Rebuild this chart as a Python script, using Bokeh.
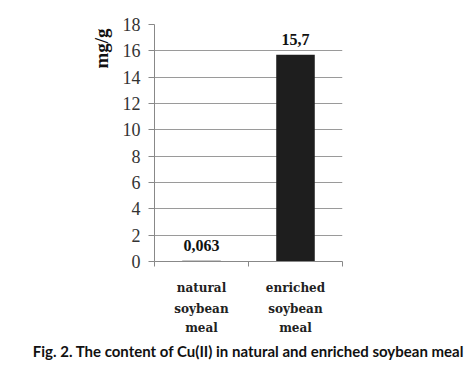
from bokeh.plotting import figure
from bokeh.models import (ColumnDataSource, Range1d, FixedTicker, LinearAxis, Title)
from bokeh.embed import file_html
from bokeh.core.properties import value
from bokeh.resources import INLINE

categories = ["natural soybean meal", "enriched soybean meal"]
label_line1 = ["natural", "enriched"]
label_line2 = ["soybean", "soybean"]
label_line3 = ["meal", "meal"]
content = [0.063, 15.7]
value_labels = ["0,063", "15,7"]
y_ticks = [0, 2, 4, 6, 8, 10, 12, 14, 16, 18]
y_label = "mg/g"
caption = "Fig. 2. The content of Cu(II) in natural and enriched soybean meal"

n = len(categories)
centers = [i + 0.5 for i in range(n)]
bounds = list(range(n + 1))

src = ColumnDataSource(dict(x=centers, val=content, lab=value_labels))

p = figure(width=476, height=377, x_range=Range1d(0, n),
           y_range=Range1d(0, 18), output_backend="svg", toolbar_location=None,
           x_axis_location=None,
           min_border_left=154, min_border_right=134, min_border_top=24,
           min_border_bottom=116)
p.outline_line_color = None
p.background_fill_color = "white"
p.border_fill_color = "white"

p.vbar(x="x", top="val", width=0.41, source=src, fill_color="#1e1e1e",
       line_color=None)

p.text(x="x", y="val", text="lab", source=src, text_align="center",
       text_baseline="bottom", y_offset=-10, text_font=value("Liberation Serif"),
       text_font_style="bold", text_font_size="16px", text_color="#111111")

# y axis
yax = p.yaxis[0]
yax.ticker = FixedTicker(ticks=y_ticks)
yax.major_label_text_font = "Liberation Serif"
yax.major_label_text_font_size = "18px"
yax.major_label_text_color = "#333333"
yax.axis_line_color = "#888888"
yax.major_tick_line_color = "#888888"
yax.major_tick_out = 6
yax.major_tick_in = 0
yax.minor_tick_line_color = None
yax.major_label_standoff = 8

p.add_layout(Title(text=y_label, align="right", offset=4, standoff=15,
                   text_font="Liberation Serif", text_font_style="bold",
                   text_font_size="19px", text_color="#111111"), "left")

# x axis line with ticks between categories
ax0 = LinearAxis(ticker=FixedTicker(ticks=bounds))
ax0.major_label_overrides = {t: "" for t in bounds}
ax0.axis_line_color = "#888888"
ax0.major_tick_line_color = "#888888"
ax0.major_tick_out = 5
ax0.major_tick_in = 0
ax0.minor_tick_line_color = None
ax0.major_label_standoff = 0
p.add_layout(ax0, "below")


def label_axis(lines, standoff):
    ax = LinearAxis(ticker=FixedTicker(ticks=centers))
    ax.major_label_overrides = dict(zip(centers, lines))
    ax.major_label_text_font = "DejaVu Serif"
    ax.major_label_text_font_style = "bold"
    ax.major_label_text_font_size = "12px"
    ax.major_label_text_color = "#222222"
    ax.major_tick_line_color = None
    ax.major_tick_out = 0
    ax.major_tick_in = 0
    ax.minor_tick_line_color = None
    ax.major_label_standoff = standoff
    ax.axis_line_color = None
    return ax


ax1 = label_axis(label_line1, 14)
p.add_layout(ax1, "below")

ax2 = label_axis(label_line2, 4)
p.add_layout(ax2, "below")

ax3 = label_axis(label_line3, 2)
ax3.axis_label = caption
ax3.axis_label_text_font = "Lato"
ax3.axis_label_text_font_style = "bold"
ax3.axis_label_text_font_size = "15px"
ax3.axis_label_text_color = "#111111"
ax3.axis_label_standoff = 4
p.add_layout(ax3, "below")

p.xgrid.grid_line_color = None
p.ygrid.grid_line_color = "#9a9a9a"
p.ygrid.grid_line_width = 1

open("out.html", "w").write(file_html(p, INLINE))
